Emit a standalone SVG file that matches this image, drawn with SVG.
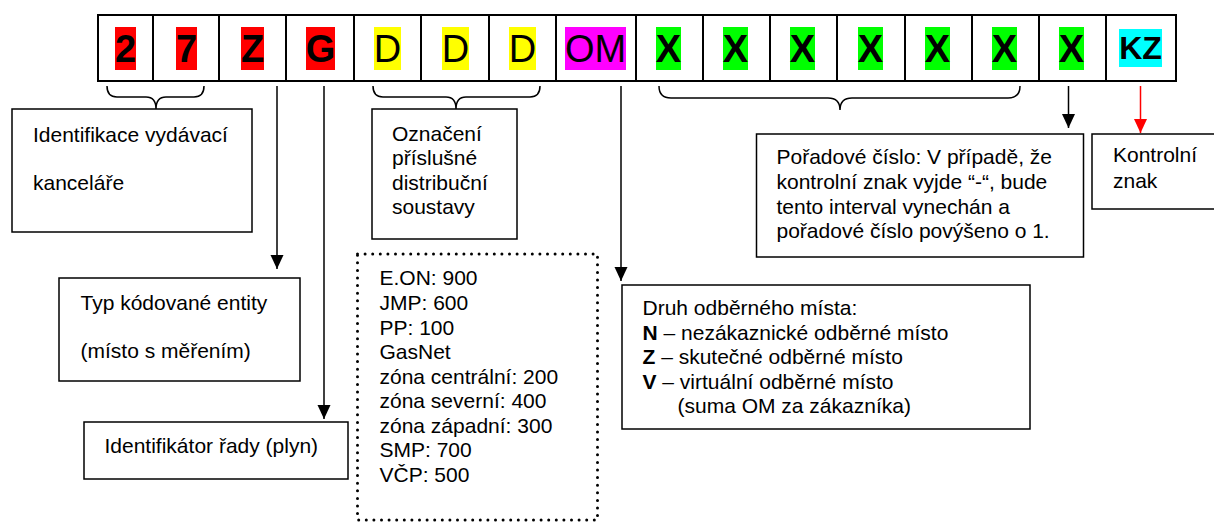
<svg xmlns="http://www.w3.org/2000/svg" width="1214" height="523" viewBox="0 0 1214 523">
<defs>
<marker id="ah" viewBox="0 0 14 14" refX="14" refY="7" markerWidth="14" markerHeight="14" markerUnits="userSpaceOnUse" orient="auto">
<path d="M0,0.5 L14,7 L0,13.5 Z" fill="#000"/>
</marker>
<marker id="ahr" viewBox="0 0 14 14" refX="14" refY="7" markerWidth="14" markerHeight="14" markerUnits="userSpaceOnUse" orient="auto">
<path d="M0,0.5 L14,7 L0,13.5 Z" fill="#f00"/>
</marker>
<style>
text{font-family:"Liberation Sans",Arial,sans-serif;fill:#000}
.big{font-size:38px;text-anchor:middle}
.b{font-weight:bold}
.kz{font-size:32px;font-weight:bold;text-anchor:middle}
.t{font-size:21px}
.cell{fill:#fff;stroke:#000;stroke-width:2}
.box{fill:#fff;stroke:#000;stroke-width:1.5}
.dot{fill:none;stroke:#000;stroke-width:3;stroke-dasharray:0 7.6;stroke-linecap:round}
.br{fill:none;stroke:#000;stroke-width:1.5}
.ar{fill:none;stroke:#000;stroke-width:1.5;marker-end:url(#ah)}
.arr{fill:none;stroke:#f00;stroke-width:1.5;marker-end:url(#ahr)}
</style>
</defs>

<g id="code-row">
<rect class="cell" x="98" y="15" width="55" height="66"/>
<rect class="cell" x="153" y="15" width="66" height="66"/>
<rect class="cell" x="219" y="15" width="67" height="66"/>
<rect class="cell" x="286" y="15" width="68" height="66"/>
<rect class="cell" x="354" y="15" width="67" height="66"/>
<rect class="cell" x="421" y="15" width="68" height="66"/>
<rect class="cell" x="489" y="15" width="67" height="66"/>
<rect class="cell" x="556" y="15" width="80" height="66"/>
<rect class="cell" x="636" y="15" width="67" height="66"/>
<rect class="cell" x="703" y="15" width="67" height="66"/>
<rect class="cell" x="770" y="15" width="67" height="66"/>
<rect class="cell" x="837" y="15" width="68" height="66"/>
<rect class="cell" x="905" y="15" width="67" height="66"/>
<rect class="cell" x="972" y="15" width="67" height="66"/>
<rect class="cell" x="1039" y="15" width="67" height="66"/>
<rect class="cell" x="1106" y="15" width="70" height="66"/>

<rect x="115" y="27" width="21" height="43" fill="#f00"/>
<rect x="176" y="27" width="21" height="43" fill="#f00"/>
<rect x="241" y="27" width="23" height="43" fill="#f00"/>
<rect x="306" y="27" width="29" height="43" fill="#f00"/>
<rect x="374" y="27" width="27" height="43" fill="#ff0"/>
<rect x="442" y="27" width="27" height="43" fill="#ff0"/>
<rect x="509" y="27" width="27" height="43" fill="#ff0"/>
<rect x="565" y="27" width="61" height="43" fill="#f0f"/>
<rect x="656" y="27" width="25" height="43" fill="#0f0"/>
<rect x="723" y="27" width="25" height="43" fill="#0f0"/>
<rect x="790" y="27" width="25" height="43" fill="#0f0"/>
<rect x="858" y="27" width="25" height="43" fill="#0f0"/>
<rect x="925" y="27" width="25" height="43" fill="#0f0"/>
<rect x="992" y="27" width="25" height="43" fill="#0f0"/>
<rect x="1059" y="27" width="25" height="43" fill="#0f0"/>
<rect x="1119" y="29" width="43" height="38" fill="#0ff"/>

<text class="big b" x="125.5" y="62">2</text>
<text class="big b" x="186.5" y="62">7</text>
<text class="big b" x="252.5" y="62">Z</text>
<text class="big b" x="320.5" y="62">G</text>
<text class="big" x="387.5" y="62">D</text>
<text class="big" x="455.5" y="62">D</text>
<text class="big" x="522.5" y="62">D</text>
<text class="big" x="595.5" y="62">OM</text>
<text class="big b" x="668.5" y="62">X</text>
<text class="big b" x="735.5" y="62">X</text>
<text class="big b" x="802.5" y="62">X</text>
<text class="big b" x="870.5" y="62">X</text>
<text class="big b" x="937.5" y="62">X</text>
<text class="big b" x="1004.5" y="62">X</text>
<text class="big b" x="1071.5" y="62">X</text>
<text class="kz" x="1140.5" y="59">KZ</text>
</g>

<g id="connectors">
<path class="br" d="M107,86 Q107,97 117,97 L146,97 Q156,97 156,109 Q156,97 166,97 L194,97 Q204,97 204,86"/>
<path class="br" d="M373,86 Q373,97 383,97 L446,97 Q456,97 456,109 Q456,97 466,97 L530,97 Q540,97 540,86"/>
<path class="br" d="M659,86 Q659,98 671,98 L828,98 Q840,98 840,110 Q840,98 852,98 L1008,98 Q1020,98 1020,86"/>
<line class="ar" x1="277" y1="86" x2="277" y2="269"/>
<line class="ar" x1="324" y1="86" x2="324" y2="419"/>
<line class="ar" x1="621" y1="86" x2="621" y2="281"/>
<line class="ar" x1="1068.5" y1="86" x2="1068.5" y2="128"/>
<line class="arr" x1="1140.5" y1="86" x2="1140.5" y2="133"/>
</g>

<g id="node-office">
<rect class="box" x="12" y="109" width="240" height="123"/>
<text class="t" x="33" y="142">Identifikace vydávací</text>
<text class="t" x="33" y="190">kanceláře</text>
</g>

<g id="node-distribution">
<rect class="box" x="372" y="109" width="145" height="130"/>
<text class="t" x="392" y="141">Označení</text>
<text class="t" x="392" y="165">příslušné</text>
<text class="t" x="392" y="190">distribuční</text>
<text class="t" x="392" y="214">soustavy</text>
</g>

<g id="node-entity">
<rect class="box" x="59" y="278" width="241" height="103"/>
<text class="t" x="80.5" y="310">Typ kódované entity</text>
<text class="t" x="80.5" y="358">(místo s měřením)</text>
</g>

<g id="node-series">
<rect class="box" x="84" y="422" width="264" height="57"/>
<text class="t" x="104.5" y="453">Identifikátor řady (plyn)</text>
</g>

<g id="node-codes">
<rect class="dot" x="357.5" y="254" width="240" height="266"/>
<text class="t" x="379.5" y="285">E.ON: 900</text>
<text class="t" x="379.5" y="310">JMP: 600</text>
<text class="t" x="379.5" y="335">PP: 100</text>
<text class="t" x="379.5" y="359">GasNet</text>
<text class="t" x="379.5" y="384">zóna centrální: 200</text>
<text class="t" x="379.5" y="408">zóna severní: 400</text>
<text class="t" x="379.5" y="433">zóna západní: 300</text>
<text class="t" x="379.5" y="457">SMP: 700</text>
<text class="t" x="379.5" y="482">VČP: 500</text>
</g>

<g id="node-om-type">
<rect class="box" x="622" y="285" width="408" height="144"/>
<text class="t" x="642.5" y="315">Druh odběrného místa:</text>
<text class="t" x="642.5" y="340"><tspan class="b">N</tspan> – nezákaznické odběrné místo</text>
<text class="t" x="642.5" y="364"><tspan class="b">Z</tspan> – skutečné odběrné místo</text>
<text class="t" x="642.5" y="389"><tspan class="b">V</tspan> – virtuální odběrné místo</text>
<text class="t" x="677.5" y="413">(suma OM za zákazníka)</text>
</g>

<g id="node-sequence">
<rect class="box" x="756.5" y="134" width="327" height="123"/>
<text class="t" x="776.5" y="164">Pořadové číslo: V případě, že</text>
<text class="t" x="776.5" y="189">kontrolní znak vyjde “-“, bude</text>
<text class="t" x="776.5" y="214">tento interval vynechán a</text>
<text class="t" x="776.5" y="238">pořadové číslo povýšeno o 1.</text>
</g>

<g id="node-check">
<rect class="box" x="1092" y="134" width="130" height="75"/>
<text class="t" x="1113" y="162">Kontrolní</text>
<text class="t" x="1113" y="188">znak</text>
</g>
</svg>
